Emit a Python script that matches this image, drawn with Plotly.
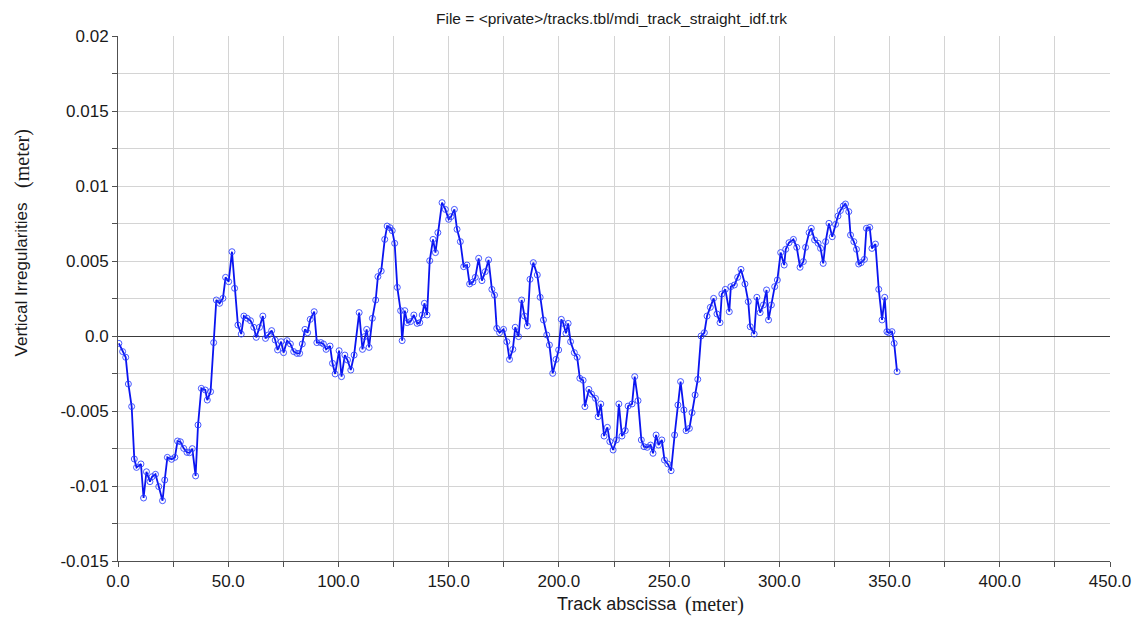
import plotly.graph_objects as go

# Track abscissa (m) and vertical irregularity (m) samples
abscissa = [
    0.4, 2.1, 3.5, 4.7, 6.2, 7.4, 8.4, 10.4, 11.6, 12.9, 14.5, 15.5, 17.0, 18.5, 20.2,
    21.2, 22.4, 24.3, 25.8, 27.0, 28.3, 29.8, 31.3, 32.5, 33.7, 35.2, 36.3, 37.8, 39.6,
    40.5, 42.0, 43.4, 44.6, 46.1, 47.6, 48.8, 50.2, 51.7, 52.9, 54.4, 55.9, 57.1, 58.6,
    60.1, 61.6, 62.7, 64.2, 65.7, 66.9, 68.2, 69.7, 71.3, 72.4, 74.0, 75.1, 76.7, 78.2,
    79.7, 81.2, 82.4, 83.6, 84.8, 86.0, 87.2, 89.0, 90.2, 92.0, 93.2, 94.4, 96.2, 97.3,
    98.5, 100.3, 101.4, 102.9, 104.1, 105.6, 107.1, 109.4, 110.9, 111.9, 112.8, 113.9,
    115.4, 116.9, 117.9, 119.4, 121.0, 122.1, 123.4, 124.4, 125.5, 126.7, 128.2, 128.9,
    130.1, 131.2, 132.7, 134.2, 135.7, 136.9, 138.0, 139.0, 140.2, 141.4, 142.9, 144.0,
    145.1, 147.0, 148.5, 150.0, 151.1, 152.6, 153.8, 155.3, 156.8, 158.3, 159.5, 161.0,
    162.1, 163.6, 165.1, 166.6, 168.1, 169.6, 170.8, 171.8, 173.1, 174.9, 176.4, 177.6,
    179.1, 180.2, 181.7, 183.1, 184.4, 185.7, 186.9, 188.4, 190.2, 191.5, 193.0, 194.5,
    195.7, 197.2, 198.7, 199.9, 201.1, 202.0, 203.2, 204.2, 205.3, 207.0, 208.3, 209.5,
    211.0, 211.8, 213.6, 214.8, 216.6, 217.8, 219.0, 220.5, 222.0, 223.1, 224.6, 226.1,
    227.2, 228.6, 230.1, 231.4, 233.2, 234.4, 235.9, 237.4, 238.6, 240.1, 241.6, 242.7,
    244.1, 245.2, 246.7, 247.9, 249.4, 250.9, 252.5, 254.0, 255.2, 256.7, 257.7, 259.2,
    260.4, 261.8, 263.0, 264.5, 266.0, 267.2, 268.7, 270.2, 271.7, 273.1, 273.9, 275.5,
    277.3, 278.0, 279.6, 281.1, 282.6, 284.4, 285.9, 286.8, 288.6, 289.8, 291.3, 292.8,
    294.2, 295.1, 296.4, 297.9, 299.1, 300.6, 302.2, 302.9, 304.4, 306.4, 307.9, 309.4,
    310.9, 311.9, 313.5, 314.5, 316.0, 317.6, 318.7, 319.9, 321.0, 322.5, 324.0, 325.5,
    326.6, 327.7, 329.0, 330.0, 331.5, 332.3, 333.8, 335.0, 336.0, 337.1, 338.6, 339.5,
    341.0, 342.0, 343.6, 345.1, 346.6, 347.8, 348.8, 349.6, 351.1, 352.1, 353.4,
]

irregularity = [
    -0.00049, -0.00104, -0.00142, -0.0032, -0.0047, -0.0082, -0.00876, -0.00853, -0.0108,
    -0.00905, -0.00971, -0.00938, -0.00922, -0.01004, -0.01098, -0.0096, -0.00809, -0.00822,
    -0.00809, -0.0070, -0.00705, -0.00749, -0.00776, -0.00778, -0.00751, -0.00933, -0.00593,
    -0.00349, -0.0036, -0.00427, -0.00371, -0.00044, 0.0024, 0.00218, 0.00251, 0.00391,
    0.00362, 0.00562, 0.00318, 0.00073, 0.00013, 0.00133, 0.00118, 0.00102, 0.00058,
    -0.00009, 0.00058, 0.00133, -0.00016, 0.00007, 0.00036, -0.00027, -0.00093, -0.00038,
    -0.00111, -0.00031, -0.00053, -0.00104, -0.00116, -0.00116, -0.00053, 0.00044, 0.00022,
    0.00111, 0.00162, -0.00044, -0.00044, -0.00053, -0.00089, -0.00067, -0.00182, -0.00253,
    -0.00098, -0.00271, -0.00127, -0.0016, -0.00227, -0.00127, 0.00156, -0.00089, -0.00004,
    0.00044, -0.00076, 0.00118, 0.0024, 0.00396, 0.00433, 0.00644, 0.00733, 0.00722,
    0.00702, 0.00618, 0.00324, 0.00169, -0.00031, 0.00169, 0.00089, 0.00096, 0.0014,
    0.00084, 0.00089, 0.0014, 0.00218, 0.0014, 0.00502, 0.00644, 0.00556, 0.00689,
    0.00889, 0.00844, 0.00778, 0.00796, 0.00844, 0.00711, 0.00629, 0.00462, 0.00473,
    0.00347, 0.0036, 0.00391, 0.00518, 0.00369, 0.00429, 0.00507, 0.00311, 0.00273,
    0.00051, 0.00022, 0.00044, -0.00038, -0.00156, -0.00089, 0.00058, -0.00004, 0.0024,
    0.00133, 0.00067, 0.00378, 0.00489, 0.00407, 0.00258, 0.00107, 0.00007, -0.0006,
    -0.00249, -0.00156, -0.00093, 0.00111, 0.00084, 0.00018, 0.00084, -0.00038, -0.00111,
    -0.00142, -0.00282, -0.00295, -0.00471, -0.00356, -0.00387, -0.00416, -0.00538,
    -0.00453, -0.00667, -0.00609, -0.00704, -0.0076, -0.00693, -0.00453, -0.00667,
    -0.00631, -0.00467, -0.00453, -0.00271, -0.00431, -0.00693, -0.00738, -0.00742,
    -0.00727, -0.00782, -0.0066, -0.00727, -0.00693, -0.00827, -0.00853, -0.00898,
    -0.0066, -0.0046, -0.00304, -0.00493, -0.00631, -0.00616, -0.00511, -0.00393,
    -0.00289, 0.0, 0.00022, 0.00133, 0.00191, 0.00251, 0.00147, 0.00089, 0.0028, 0.00311,
    0.00162, 0.00329, 0.0034, 0.00391, 0.00444, 0.00347, 0.00229, 0.00062, 0.00013,
    0.00258, 0.00156, 0.00207, 0.00307, 0.00107, 0.00207, 0.00329, 0.00373, 0.00556,
    0.00473, 0.00578, 0.00622, 0.00644, 0.00591, 0.00458, 0.00496, 0.00591, 0.00689,
    0.00718, 0.0064, 0.00618, 0.00584, 0.00484, 0.00629, 0.00751, 0.00662, 0.00744,
    0.008, 0.00836, 0.00867, 0.0088, 0.00829, 0.00673, 0.00629, 0.00578, 0.0048, 0.00489,
    0.00511, 0.00718, 0.00724, 0.00584, 0.00613, 0.00311, 0.00107, 0.00258, 0.00029,
    0.00022, 0.00029, -0.00049, -0.00238,
]

y_tick_values = [0.02, 0.015, 0.01, 0.005, 0.0, -0.005, -0.01, -0.015]
y_tick_labels = ["0.02", "0.015", "0.01", "0.005", "0.0", "-0.005", "-0.01", "-0.015"]
x_tick_values = [0, 50, 100, 150, 200, 250, 300, 350, 400, 450]
x_tick_labels = ["0.0", "50.0", "100.0", "150.0", "200.0", "250.0", "300.0", "350.0",
                 "400.0", "450.0"]

SANS = "Liberation Sans, Arial, sans-serif"
SERIF = "Liberation Serif, Times New Roman, serif"
TEXT = "#1a1a1a"
GRID = "#d4d4d4"
AXIS = "#505050"

fig = go.Figure()
fig.add_trace(go.Scatter(
    x=abscissa,
    y=irregularity,
    mode="lines+markers",
    line=dict(color="#0a14f0", width=1.8),
    marker=dict(symbol="circle-open", size=6, color="rgba(40,60,255,0.85)",
                line=dict(width=1)),
    showlegend=False,
))

common_axis = dict(
    ticks="outside",
    ticklen=5,
    tickcolor=AXIS,
    showgrid=True,
    gridcolor=GRID,
    gridwidth=1,
    showline=True,
    linecolor=AXIS,
    linewidth=1,
    tickfont=dict(family=SANS, size=17, color=TEXT),
)

fig.update_layout(
    width=1143,
    height=619,
    margin=dict(l=118, r=28, t=36, b=58),
    paper_bgcolor="white",
    plot_bgcolor="white",
    font=dict(family=SANS, size=16, color=TEXT),
    xaxis=dict(
        range=[0, 450],
        tickvals=x_tick_values,
        ticktext=x_tick_labels,
        minor=dict(dtick=25, tick0=0, showgrid=True, gridcolor=GRID, ticks="outside",
                   ticklen=5, tickcolor=AXIS),
        zeroline=False,
        **common_axis,
    ),
    yaxis=dict(
        range=[-0.015, 0.02],
        tickvals=y_tick_values,
        ticktext=y_tick_labels,
        minor=dict(dtick=0.0025, tick0=0, showgrid=True, gridcolor=GRID, ticks="outside",
                   ticklen=5, tickcolor=AXIS),
        zeroline=True,
        zerolinecolor="#3a3a3a",
        zerolinewidth=1,
        **common_axis,
    ),
    annotations=[
        # chart title
        dict(
            text="File = &lt;private&gt;/tracks.tbl/mdi_track_straight_idf.trk",
            xref="paper", yref="paper", x=0.4975, y=1.034,
            xanchor="center", yanchor="middle", showarrow=False,
            font=dict(family=SANS, size=15.5, color=TEXT),
        ),
        # x-axis title: sans label followed by serif unit
        dict(
            text="Track abscissa",
            xref="paper", yref="paper", x=0.5657, y=-0.082,
            xanchor="right", yanchor="middle", showarrow=False,
            font=dict(family=SANS, size=18, color=TEXT),
        ),
        dict(
            text="(meter)",
            xref="paper", yref="paper", x=0.5697, y=-0.082,
            xanchor="left", yanchor="middle", showarrow=False,
            font=dict(family=SERIF, size=20, color=TEXT),
        ),
        # y-axis title: sans label followed by serif unit
        dict(
            text="Vertical Irregularities",
            xref="paper", yref="paper", x=-0.0963, y=0.3867,
            xanchor="center", yanchor="bottom", showarrow=False, textangle=-90,
            font=dict(family=SANS, size=17, color=TEXT),
        ),
        dict(
            text="(meter)",
            xref="paper", yref="paper", x=-0.0963, y=0.7067,
            xanchor="center", yanchor="bottom", showarrow=False, textangle=-90,
            font=dict(family=SERIF, size=20, color=TEXT),
        ),
    ],
)

fig.write_html("out.html")
